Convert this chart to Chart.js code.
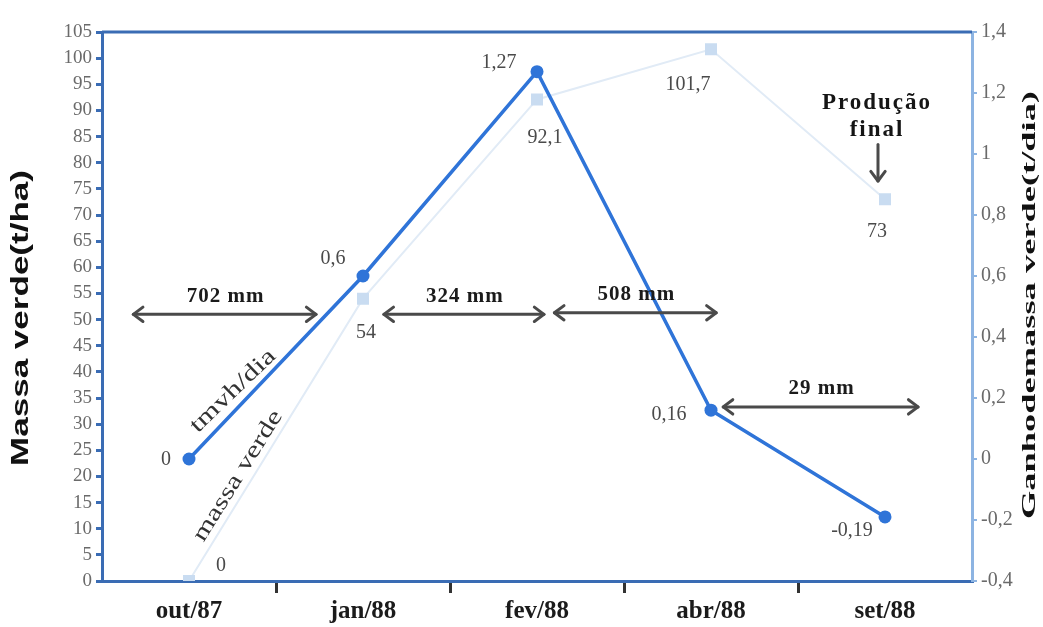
<!DOCTYPE html>
<html>
<head>
<meta charset="utf-8">
<script src="https://cdn.jsdelivr.net/npm/chart.js@4.4.1/dist/chart.umd.min.js"></script>
<style>
  html, body { margin: 0; padding: 0; background: #fff; }
  #caixa { width: 1043px; height: 627px; }
</style>
</head>
<body>
<div id="caixa"><canvas id="grafico"></canvas></div>
<script>
// Dados
const meses = ['out/87', 'jan/88', 'fev/88', 'abr/88', 'set/88'];
const massaVerde = [0, 54, 92.1, 101.7, 73];        // t/ha (eixo esquerdo)
const ganhoDia = [0, 0.6, 1.27, 0.16, -0.19];        // t/dia (eixo direito)
const rotulosMassa = ['0', '54', '92,1', '101,7', '73'];
const rotulosGanho = ['0', '0,6', '1,27', '0,16', '-0,19'];
const chuvas = ['702 mm', '324 mm', '508 mm', '29 mm'];

const AZUL = '#2f74d8';
const AZUL_CLARO = '#c9dcf1';
const EIXO = '#3a6cb4';
const EIXO_DIR = '#8db4e2';
const CINZA = '#6a6a6a';
const SERIF = '"Liberation Serif", "DejaVu Serif", serif';

// posição x (em índices de categoria) -> pixel
function xCat(chart, i) {
  const a = chart.chartArea;
  return a.left + (i + 0.5) * (a.right - a.left) / meses.length;
}

function texto(ctx, t, x, y, opts) {
  ctx.save();
  ctx.translate(x, y);
  if (opts.angulo) ctx.rotate(opts.angulo * Math.PI / 180);
  ctx.font = opts.font;
  ctx.fillStyle = opts.cor || '#222';
  ctx.textAlign = 'center';
  ctx.textBaseline = 'middle';
  if (opts.espaco) ctx.letterSpacing = opts.espaco + 'px';
  if (opts.largura) {
    const w = ctx.measureText(t).width;
    ctx.scale(opts.largura / w, 1);
  }
  ctx.fillText(t, 0, 0);
  ctx.restore();
}

function ponta(ctx, x, y, ang) {
  const L = 12;
  ctx.beginPath();
  ctx.moveTo(x + L * Math.cos(ang + 2.5), y + L * Math.sin(ang + 2.5));
  ctx.lineTo(x, y);
  ctx.lineTo(x + L * Math.cos(ang - 2.5), y + L * Math.sin(ang - 2.5));
  ctx.stroke();
}

function seta(ctx, x1, y1, x2, y2, dupla) {
  ctx.save();
  ctx.strokeStyle = '#4a4a4a';
  ctx.lineWidth = 3;
  ctx.lineCap = 'round';
  ctx.lineJoin = 'round';
  ctx.beginPath();
  ctx.moveTo(x1, y1);
  ctx.lineTo(x2, y2);
  ctx.stroke();
  const ang = Math.atan2(y2 - y1, x2 - x1);
  ponta(ctx, x2, y2, ang);
  if (dupla) ponta(ctx, x1, y1, ang + Math.PI);
  ctx.restore();
}

const anotacoes = {
  id: 'anotacoes',
  afterDraw(chart) {
    const ctx = chart.ctx;
    const a = chart.chartArea;
    const yE = chart.scales.y;

    // borda superior
    ctx.save();
    ctx.strokeStyle = EIXO;
    ctx.lineWidth = 3;
    ctx.beginPath();
    ctx.moveTo(a.left, a.top);
    ctx.lineTo(a.right, a.top);
    ctx.stroke();
    ctx.restore();

    // títulos dos eixos
    texto(ctx, 'Massa verde(t/ha)', 21, 318,
      { angulo: -90, font: 'bold 24px "Liberation Sans", Arial, sans-serif', cor: '#111', largura: 296 });
    texto(ctx, 'Ganhodemassa verde(t/dia)', 1030, 305,
      { angulo: -90, font: 'bold 18px ' + SERIF, cor: '#111', largura: 428 });

    // rótulos dos pontos
    const desvGanho = [[-23, 1], [-30, -17], [-38, -9], [-42, 5], [-33, 14]];
    const desvMassa = [[32, -15], [3, 34], [8, 38], [-23, 35], [-8, 32]];
    const mG = chart.getDatasetMeta(0).data;
    const mM = chart.getDatasetMeta(1).data;
    rotulosGanho.forEach((t, i) => {
      texto(ctx, t, mG[i].x + desvGanho[i][0], mG[i].y + desvGanho[i][1],
        { font: '20px ' + SERIF, cor: '#4a4a4a' });
    });
    rotulosMassa.forEach((t, i) => {
      texto(ctx, t, mM[i].x + desvMassa[i][0], mM[i].y + desvMassa[i][1],
        { font: '20px ' + SERIF, cor: '#4a4a4a' });
    });

    // setas de chuva entre coletas
    const trechos = [[-0.32, 0.73, 51], [1.12, 2.04, 51], [2.10, 3.03, 51.3], [3.07, 4.19, 33.3]];
    trechos.forEach((s, i) => {
      const x1 = xCat(chart, s[0]), x2 = xCat(chart, s[1]);
      const y = yE.getPixelForValue(s[2]);
      seta(ctx, x1, y, x2, y, true);
      texto(ctx, chuvas[i], (x1 + x2) / 2 + 1, y - 18,
        { font: 'bold 21px ' + SERIF, cor: '#1b1b1b', espaco: 1 });
    });

    // produção final
    const xp = xCat(chart, 4);
    texto(ctx, 'Produção', xp - 8, yE.getPixelForValue(91.5),
      { font: 'bold 23px ' + SERIF, cor: '#151515', espaco: 2 });
    texto(ctx, 'final', xp - 8, yE.getPixelForValue(86.3),
      { font: 'bold 23px ' + SERIF, cor: '#151515', espaco: 2 });
    seta(ctx, xp - 7, yE.getPixelForValue(83.5), xp - 7, yE.getPixelForValue(76.5), false);

    // nomes das séries ao longo das linhas
    texto(ctx, 'tmvh/dia', 233, 391,
      { angulo: -44, font: '23px ' + SERIF, cor: '#333', largura: 110 });
    texto(ctx, 'massa verde', 238, 476,
      { angulo: -58, font: '23px ' + SERIF, cor: '#333', largura: 150 });
  }
};

const fmtDir = v => {
  const r = Math.round(v * 10) / 10;
  return (r === 0 ? '0' : String(r)).replace('.', ',');
};

new Chart(document.getElementById('grafico'), {
  type: 'line',
  data: {
    labels: meses,
    datasets: [
      {
        label: 'tmvh/dia',
        data: ganhoDia,
        yAxisID: 'y1',
        borderColor: AZUL,
        backgroundColor: AZUL,
        borderWidth: 3.5,
        pointRadius: 6.5,
        pointBorderWidth: 0,
        tension: 0
      },
      {
        label: 'massa verde',
        data: massaVerde,
        yAxisID: 'y',
        borderColor: '#e1ebf6',
        backgroundColor: AZUL_CLARO,
        borderWidth: 2,
        pointStyle: 'rect',
        pointRadius: 8.5,
        pointBorderWidth: 0,
        tension: 0
      }
    ]
  },
  options: {
    responsive: true,
    maintainAspectRatio: false,
    animation: false,
    layout: { padding: { top: 32, left: 0, right: 0, bottom: 0 } },
    plugins: { legend: { display: false }, tooltip: { enabled: false } },
    scales: {
      x: {
        offset: true,
        grid: {
          offset: true,
          drawOnChartArea: false,
          tickLength: 12,
          lineWidth: 3,
          color: c => (c.type !== 'tick' || c.index === 0) ? 'rgba(0,0,0,0)' : '#333'
        },
        border: { color: EIXO, width: 3 },
        ticks: { color: '#1b1b1b', font: { family: SERIF, size: 25, weight: 'bold' }, padding: 4 },
        afterFit(s) { s.height = 46; }
      },
      y: {
        position: 'left',
        min: 0,
        max: 105,
        ticks: { stepSize: 5, autoSkip: false, color: CINZA, font: { family: SERIF, size: 19 }, padding: 4 },
        grid: { drawOnChartArea: false, tickLength: 6, lineWidth: 3, color: EIXO },
        border: { color: EIXO, width: 3 },
        afterFit(s) { s.width = 102; }
      },
      y1: {
        position: 'right',
        min: -0.4,
        max: 1.4,
        ticks: { stepSize: 0.2, autoSkip: false, color: CINZA, font: { family: SERIF, size: 20 }, padding: 4, callback: fmtDir },
        grid: { drawOnChartArea: false, tickLength: 5, lineWidth: 2, color: EIXO_DIR },
        border: { color: EIXO_DIR, width: 3 },
        afterFit(s) { s.width = 71; }
      }
    }
  },
  plugins: [anotacoes]
});
</script>
</body>
</html>
